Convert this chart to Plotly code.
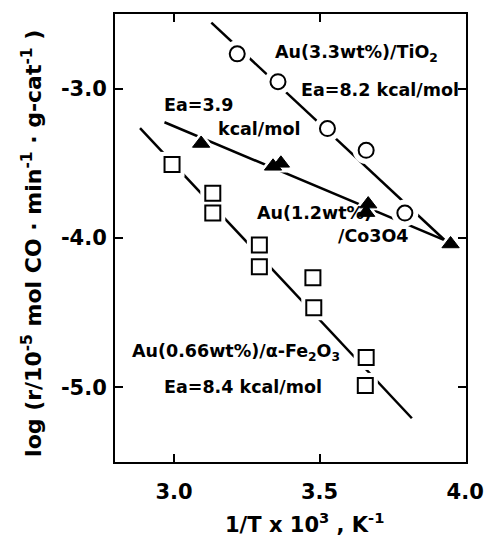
import plotly.graph_objects as go

# ---- data ----
tio2_x = [3.217, 3.357, 3.527, 3.660, 3.793]
tio2_y = [-2.767, -2.953, -3.267, -3.413, -3.833]
tio2_fit_x = [3.128, 3.933]
tio2_fit_y = [-2.558, -4.020]

co_x = [3.093, 3.340, 3.367, 3.667, 3.660, 3.950]
co_y = [-3.367, -3.520, -3.500, -3.773, -3.830, -4.040]
co_fit_x = [2.967, 3.927]
co_fit_y = [-3.225, -4.013]

fe_x = [2.993, 3.133, 3.133, 3.293, 3.293, 3.477, 3.480, 3.660, 3.657]
fe_y = [-3.507, -3.700, -3.833, -4.047, -4.193, -4.267, -4.467, -4.800, -4.987]
fe_fit_x = [2.883, 3.817]
fe_fit_y = [-3.264, -5.207]

x_ticks = [3.0, 3.5, 4.0]
x_ticklabels = ["3.0", "3.5", "4.0"]
y_ticks = [-3.0, -4.0, -5.0]
y_ticklabels = ["-3.0", "-4.0", "-5.0"]

FONT = "DejaVu Sans"
fig = go.Figure()

# fitted lines
for fx, fy in [(tio2_fit_x, tio2_fit_y), (co_fit_x, co_fit_y), (fe_fit_x, fe_fit_y)]:
    fig.add_trace(go.Scatter(x=fx, y=fy, mode="lines",
                             line=dict(color="black", width=2.5),
                             showlegend=False, hoverinfo="skip"))

# white halos (gaps in lines around markers)
for xs, ys, sym, sz in [(tio2_x, tio2_y, "circle", 27), (co_x, co_y, "triangle-up", 25),
                        (fe_x, fe_y, "square", 25)]:
    fig.add_trace(go.Scatter(x=xs, y=ys, mode="markers",
                             marker=dict(symbol=sym, size=sz, color="white",
                                         line=dict(width=0)),
                             showlegend=False, hoverinfo="skip"))

# markers
fig.add_trace(go.Scatter(x=tio2_x, y=tio2_y, mode="markers",
                         marker=dict(symbol="circle", size=15, color="white",
                                     line=dict(color="black", width=2)),
                         showlegend=False))
fig.add_trace(go.Scatter(x=co_x, y=co_y, mode="markers",
                         marker=dict(symbol="triangle-up", size=15, color="black",
                                     line=dict(color="black", width=1)),
                         showlegend=False))
fig.add_trace(go.Scatter(x=fe_x, y=fe_y, mode="markers",
                         marker=dict(symbol="square", size=15, color="white",
                                     line=dict(color="black", width=2)),
                         showlegend=False))

def lab(x, y, text, size=17.5):
    fig.add_annotation(x=x, y=y, xref="x", yref="y", text="<b>%s</b>" % text,
                       showarrow=False, xanchor="left", yanchor="middle",
                       font=dict(family=FONT, size=size, color="black"))

lab(3.34, -2.767, "Au(3.3wt%)/TiO<sub>2</sub>")
lab(3.428, -3.007, "Ea=8.2 kcal/mol")
lab(2.96, -3.107, "Ea=3.9")
lab(3.143, -3.267, "kcal/mol")
lab(3.277, -3.833, "Au(1.2wt%)")
lab(3.557, -3.987, "/Co3O4")
lab(2.85, -4.767, "Au(0.66wt%)/α-Fe<sub>2</sub>O<sub>3</sub>")
lab(2.957, -5.0, "Ea=8.4 kcal/mol")

# axis titles
fig.add_annotation(x=0.54, y=-0.136, xref="paper", yref="paper",
                   text="<b>1/T x 10<sup>3</sup> , K<sup>-1</sup></b>", showarrow=False,
                   xanchor="center", yanchor="middle",
                   font=dict(family=FONT, size=21, color="black"))
fig.add_annotation(x=-0.235, y=0.488, xref="paper", yref="paper", textangle=-90,
                   text="<b>log (r/10<sup>-5</sup> mol CO · min<sup>-1</sup> · g-cat<sup>-1</sup> )</b>",
                   showarrow=False, xanchor="center", yanchor="middle",
                   font=dict(family=FONT, size=22, color="black"))

axis_common = dict(showline=True, linecolor="black", linewidth=2, mirror="ticks",
                   ticks="inside", ticklen=8, tickwidth=2, tickcolor="black",
                   showgrid=False, zeroline=False,
                   tickfont=dict(family=FONT, size=21, color="black"))

fig.update_xaxes(range=[2.797, 4.003], tickmode="array", tickvals=x_ticks,
                 ticktext=["<b>%s</b>" % t for t in x_ticklabels],
                 ticklabelstandoff=10, **axis_common)
fig.update_yaxes(range=[-5.5, -2.5], tickmode="array", tickvals=y_ticks,
                 ticktext=["<b>%s</b>" % t for t in y_ticklabels],
                 ticklabelstandoff=2, **axis_common)

fig.update_layout(width=496, height=537, margin=dict(l=115, r=20, t=12, b=75),
                  plot_bgcolor="white", paper_bgcolor="white", showlegend=False)

fig.write_html("out.html")
